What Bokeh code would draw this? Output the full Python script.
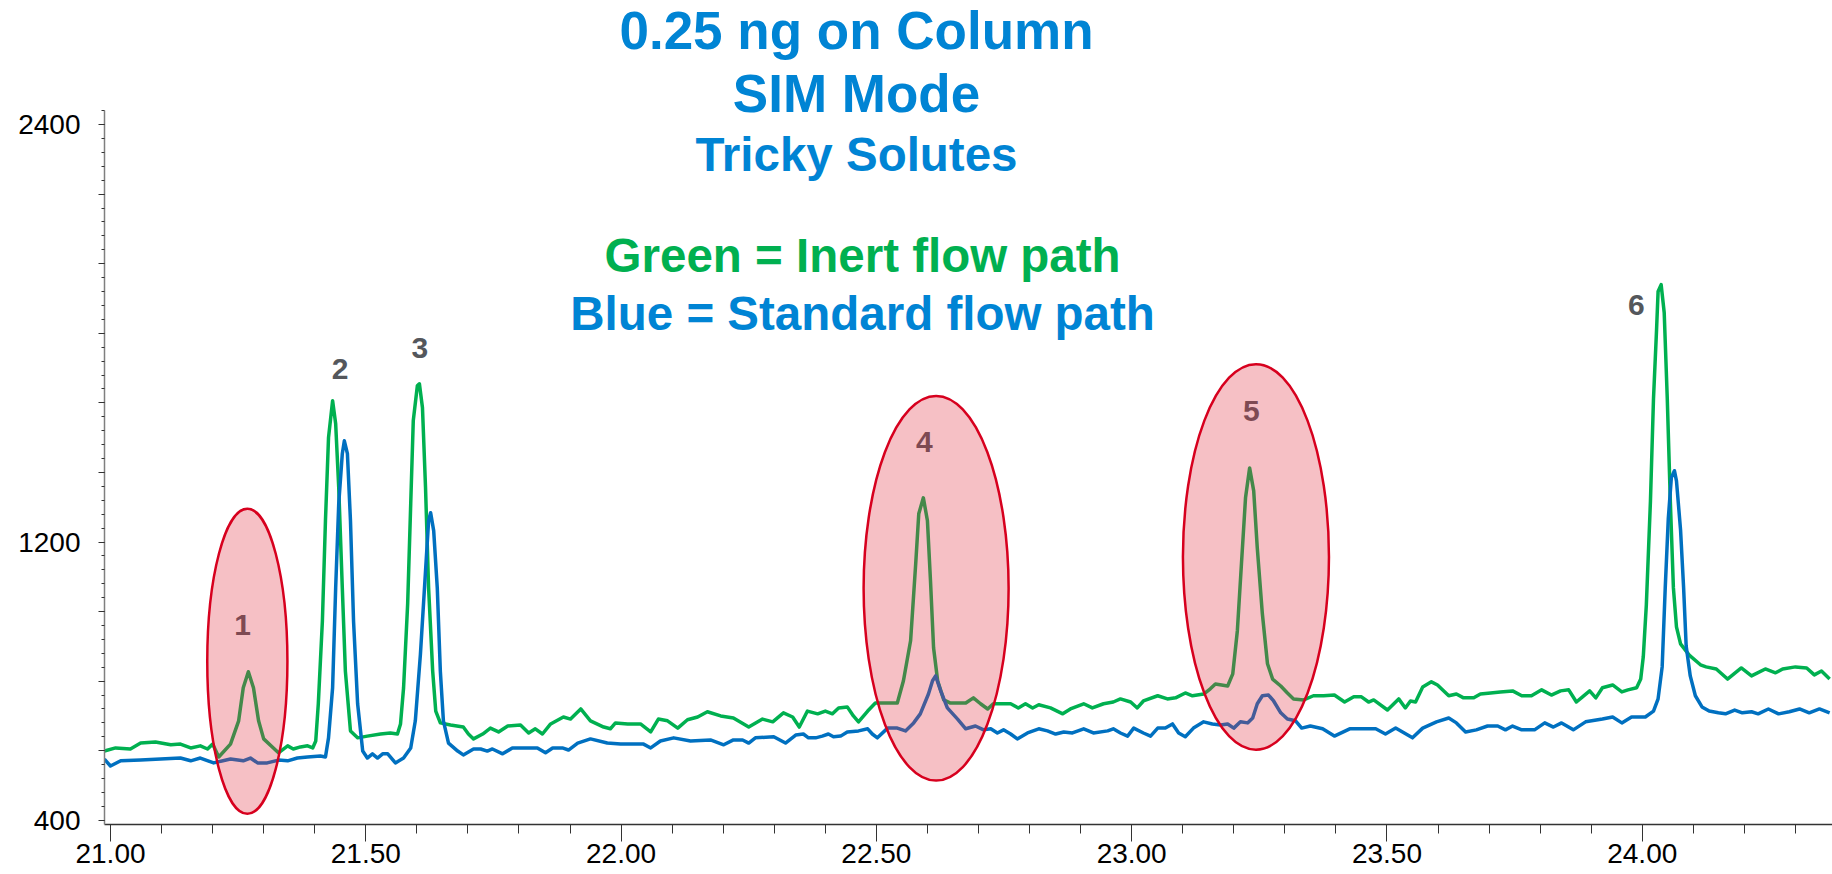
from bokeh.plotting import figure
from bokeh.models import Range1d, FixedTicker, NumeralTickFormatter
from bokeh.core.properties import value
from bokeh.embed import file_html
from bokeh.resources import INLINE

# ---------------- data (retention time in min, abundance) ----------------
green_time = [20.988, 21.010, 21.039, 21.059, 21.088, 21.118, 21.137, 21.157, 21.176, 21.190,
              21.200, 21.212, 21.235, 21.251, 21.260, 21.270, 21.280, 21.290, 21.300, 21.319,
              21.329, 21.347, 21.358, 21.372, 21.386, 21.396, 21.402, 21.407, 21.415, 21.421,
              21.427, 21.435, 21.441, 21.447, 21.454, 21.460, 21.470, 21.484, 21.503, 21.529,
              21.548, 21.562, 21.568, 21.574, 21.582, 21.588, 21.593, 21.601, 21.605, 21.611,
              21.617, 21.623, 21.631, 21.637, 21.646, 21.666, 21.691, 21.701, 21.711, 21.729,
              21.744, 21.760, 21.778, 21.803, 21.819, 21.832, 21.846, 21.862, 21.887, 21.901,
              21.921, 21.940, 21.966, 21.979, 21.989, 22.013, 22.038, 22.058, 22.073, 22.091,
              22.111, 22.130, 22.150, 22.169, 22.195, 22.220, 22.250, 22.277, 22.297, 22.318,
              22.336, 22.349, 22.365, 22.385, 22.400, 22.414, 22.426, 22.443, 22.455, 22.465,
              22.483, 22.498, 22.522, 22.541, 22.553, 22.567, 22.577, 22.583, 22.592, 22.600,
              22.606, 22.612, 22.620, 22.632, 22.645, 22.675, 22.690, 22.704, 22.718, 22.729,
              22.763, 22.778, 22.792, 22.806, 22.818, 22.841, 22.865, 22.880, 22.906, 22.923,
              22.945, 22.964, 22.978, 22.998, 23.011, 23.023, 23.051, 23.070, 23.086, 23.105,
              23.119, 23.141, 23.154, 23.164, 23.188, 23.198, 23.207, 23.215, 23.223, 23.231,
              23.239, 23.246, 23.256, 23.266, 23.276, 23.292, 23.305, 23.317, 23.337, 23.356,
              23.376, 23.397, 23.417, 23.435, 23.450, 23.464, 23.474, 23.501, 23.523, 23.536,
              23.546, 23.556, 23.570, 23.587, 23.599, 23.621, 23.636, 23.650, 23.670, 23.683,
              23.703, 23.722, 23.746, 23.764, 23.783, 23.803, 23.822, 23.840, 23.856, 23.871,
              23.883, 23.897, 23.909, 23.922, 23.942, 23.960, 23.972, 23.989, 23.997, 24.002,
              24.008, 24.016, 24.022, 24.028, 24.031, 24.037, 24.043, 24.049, 24.055, 24.061,
              24.067, 24.075, 24.092, 24.114, 24.125, 24.145, 24.167, 24.194, 24.214, 24.241,
              24.261, 24.275, 24.300, 24.322, 24.337, 24.351, 24.367]
green_abund = [599, 608, 605, 622, 625, 617, 619, 608, 614, 605,
               619, 582, 619, 686, 781, 827, 781, 686, 634, 608,
               594, 614, 605, 611, 614, 608, 628, 735, 973, 1261,
               1500, 1606, 1540, 1356, 1068, 829, 657, 637, 642, 648,
               651, 648, 677, 781, 1022, 1310, 1549, 1649, 1655, 1586,
               1356, 1068, 829, 714, 680, 674, 668, 648, 634, 648,
               665, 654, 671, 674, 651, 663, 648, 677, 697, 691,
               720, 686, 668, 663, 680, 677, 677, 654, 691, 686,
               665, 689, 697, 712, 700, 694, 668, 691, 683, 709,
               697, 668, 714, 706, 714, 706, 723, 726, 700, 683,
               714, 737, 737, 737, 801, 916, 1137, 1281, 1327, 1261,
               1088, 896, 801, 746, 737, 737, 752, 735, 720, 735,
               735, 723, 735, 723, 732, 723, 706, 720, 735, 723,
               735, 740, 749, 740, 723, 743, 758, 749, 752, 766,
               758, 763, 778, 792, 786, 821, 945, 1137, 1327, 1413,
               1347, 1183, 993, 850, 806, 786, 766, 749, 746, 758,
               758, 760, 740, 755, 755, 740, 746, 717, 749, 723,
               743, 740, 783, 798, 789, 758, 763, 752, 752, 763,
               766, 769, 772, 758, 758, 775, 760, 772, 775, 740,
               755, 772, 752, 781, 789, 769, 775, 781, 806, 870,
               1019, 1316, 1612, 1810, 1920, 1940, 1859, 1612, 1316, 1068,
               956, 907, 875, 847, 841, 835, 806, 838, 815, 835,
               824, 835, 841, 838, 818, 829, 806]

blue_time = [20.988, 21.000, 21.020, 21.059, 21.098, 21.137, 21.157, 21.176, 21.202, 21.235,
             21.260, 21.274, 21.288, 21.307, 21.329, 21.347, 21.366, 21.386, 21.411, 21.421,
             21.427, 21.435, 21.441, 21.447, 21.454, 21.458, 21.464, 21.470, 21.476, 21.484,
             21.494, 21.503, 21.513, 21.523, 21.533, 21.543, 21.558, 21.574, 21.588, 21.597,
             21.607, 21.617, 21.623, 21.627, 21.633, 21.640, 21.646, 21.652, 21.662, 21.680,
             21.691, 21.711, 21.725, 21.738, 21.748, 21.768, 21.787, 21.809, 21.836, 21.852,
             21.866, 21.885, 21.897, 21.915, 21.940, 21.973, 21.999, 22.024, 22.044, 22.058,
             22.077, 22.103, 22.136, 22.175, 22.201, 22.220, 22.238, 22.250, 22.263, 22.299,
             22.322, 22.342, 22.357, 22.367, 22.381, 22.394, 22.406, 22.416, 22.430, 22.443,
             22.465, 22.483, 22.492, 22.502, 22.522, 22.541, 22.557, 22.573, 22.586, 22.602,
             22.610, 22.616, 22.626, 22.639, 22.659, 22.675, 22.694, 22.710, 22.724, 22.737,
             22.749, 22.763, 22.776, 22.796, 22.818, 22.835, 22.851, 22.867, 22.884, 22.906,
             22.925, 22.953, 22.964, 22.978, 22.992, 23.004, 23.023, 23.037, 23.051, 23.066,
             23.080, 23.092, 23.105, 23.121, 23.141, 23.158, 23.174, 23.188, 23.200, 23.213,
             23.227, 23.237, 23.246, 23.256, 23.268, 23.278, 23.292, 23.305, 23.321, 23.333,
             23.350, 23.374, 23.397, 23.427, 23.478, 23.497, 23.517, 23.550, 23.570, 23.597,
             23.621, 23.636, 23.654, 23.675, 23.697, 23.717, 23.732, 23.746, 23.764, 23.789,
             23.809, 23.826, 23.842, 23.865, 23.889, 23.922, 23.942, 23.960, 23.979, 24.006,
             24.022, 24.031, 24.039, 24.045, 24.051, 24.057, 24.063, 24.067, 24.075, 24.081,
             24.086, 24.094, 24.104, 24.117, 24.131, 24.149, 24.163, 24.181, 24.196, 24.214,
             24.227, 24.247, 24.267, 24.288, 24.308, 24.327, 24.347, 24.367]
blue_abund = [576, 556, 571, 573, 576, 579, 571, 579, 565, 576,
              571, 579, 565, 565, 573, 571, 579, 582, 585, 582,
              637, 781, 1068, 1310, 1454, 1491, 1454, 1261, 973, 735,
              599, 579, 591, 579, 591, 591, 565, 579, 608, 686,
              878, 1117, 1261, 1284, 1232, 1068, 829, 686, 622, 599,
              588, 605, 605, 599, 605, 591, 608, 608, 608, 594,
              608, 608, 602, 622, 634, 622, 619, 619, 619, 608,
              628, 637, 628, 631, 617, 631, 631, 622, 637, 640,
              622, 645, 648, 637, 637, 642, 648, 640, 642, 654,
              657, 663, 648, 637, 665, 665, 657, 680, 706, 763,
              801, 815, 772, 723, 691, 663, 671, 660, 663, 651,
              660, 648, 634, 651, 663, 657, 648, 654, 651, 663,
              651, 657, 663, 651, 642, 665, 651, 642, 665, 665,
              677, 651, 640, 665, 683, 677, 674, 677, 665, 683,
              680, 694, 735, 758, 760, 743, 709, 691, 686, 665,
              671, 663, 642, 663, 663, 648, 665, 637, 665, 683,
              694, 680, 654, 660, 671, 671, 660, 671, 660, 660,
              680, 668, 680, 660, 683, 691, 697, 680, 697, 697,
              714, 749, 841, 1068, 1267, 1385, 1405, 1376, 1235, 1068,
              901, 815, 758, 726, 714, 709, 706, 717, 709, 712,
              706, 720, 706, 712, 720, 709, 720, 709]

peak_ids = ["1", "2", "3", "4", "5", "6"]
peak_label_time = [21.2585, 21.4495, 21.606, 22.594, 23.2346, 23.9886]
peak_label_abund = [962, 1698, 1759, 1487, 1577, 1882]

circled_time = [21.268, 22.617, 23.2434]
circled_abund = [857, 1067, 1157]
circled_width = [0.157, 0.284, 0.286]
circled_height = [877, 1107, 1110]

y_ticks = list(range(400, 2401, 200))
y_minor_ticks = list(range(400, 2441, 40))
y_labelled = [400, 1200, 2400]
x_ticks = [21.0, 21.5, 22.0, 22.5, 23.0, 23.5, 24.0]
x_minor_ticks = [round(21.0 + 0.1 * i, 1) for i in range(0, 34)]

title_lines = ["0.25 ng on Column", "SIM Mode", "Tricky Solutes"]
legend_lines = ["Green = Inert flow path", "Blue = Standard flow path"]

# ---------------- layout ----------------
PX_PER_UNIT = 0.34765
Y_TOP = 2756.7
Y_BOTTOM = 387.9
FONT = value("Liberation Sans")


def y_at(py):
    # page pixel row -> abundance (frame top is at page row 0)
    return Y_TOP - py / PX_PER_UNIT


p = figure(width=1832, height=874, output_backend="svg", toolbar_location=None,
           x_range=Range1d(20.98825, 24.3726), y_range=Range1d(Y_BOTTOM, Y_TOP),
           min_border_left=104, min_border_right=0, min_border_top=0, min_border_bottom=50)
p.xgrid.visible = False
p.ygrid.visible = False
p.outline_line_color = None
p.background_fill_color = "white"
p.border_fill_color = "white"

# y axis
ya = p.yaxis[0]
ya.ticker = FixedTicker(ticks=y_ticks, minor_ticks=y_minor_ticks)
ya.major_label_overrides = {t: (str(t) if t in y_labelled else "") for t in y_ticks}
ya.bounds = (Y_BOTTOM, 2440)
ya.axis_line_color = "#7f7f7f"
ya.axis_line_width = 1.5
ya.major_tick_line_color = "#333333"
ya.minor_tick_line_color = "#333333"
ya.major_tick_in = 0
ya.major_tick_out = 6
ya.minor_tick_in = 0
ya.minor_tick_out = 3
ya.major_label_standoff = 18
ya.major_label_text_font = "Liberation Sans"
ya.major_label_text_font_size = "28px"
ya.major_label_text_color = "black"

# x axis
xa = p.xaxis[0]
xa.ticker = FixedTicker(ticks=x_ticks, minor_ticks=x_minor_ticks)
xa.formatter = NumeralTickFormatter(format="0.00")
xa.axis_line_color = "#333333"
xa.axis_line_width = 1.5
xa.major_tick_line_color = "#333333"
xa.minor_tick_line_color = "#333333"
xa.major_tick_in = 0
xa.major_tick_out = 17
xa.minor_tick_in = 0
xa.minor_tick_out = 9
xa.major_label_standoff = 2
xa.major_label_text_font = "Liberation Sans"
xa.major_label_text_font_size = "28px"
xa.major_label_text_color = "black"

# traces
p.line(green_time, green_abund, line_color="#00B050", line_width=3.5, line_join="round")
p.line(blue_time, blue_abund, line_color="#0070C0", line_width=3.5, line_join="round")

# peak numbers
p.text(x=peak_label_time, y=peak_label_abund, text=peak_ids, text_font=FONT,
       text_font_style="bold", text_font_size="30px", text_color="#54575C",
       text_align="center", text_baseline="middle")

# highlighted peaks (drawn on top, translucent)
p.ellipse(x=circled_time, y=circled_abund, width=circled_width, height=circled_height,
          fill_color="#E03040", fill_alpha=0.3, line_color="#D7001E", line_width=2.5)

# titles
title_x = 22.461
for txt, py, size in zip(title_lines, [30, 93, 154], ["53px", "53px", "47.5px"]):
    p.text(x=[title_x], y=[y_at(py)], text=[txt], text_font=FONT, text_font_style="bold",
           text_font_size=size, text_color="#0084D4", text_align="center",
           text_baseline="alphabetic")

legend_x = 22.473
for txt, py, col in zip(legend_lines, [254.5, 313], ["#00B050", "#0084D4"]):
    p.text(x=[legend_x], y=[y_at(py)], text=[txt], text_font=FONT, text_font_style="bold",
           text_font_size="47.5px", text_color=col, text_align="center",
           text_baseline="alphabetic")

open("out.html", "w").write(file_html(p, INLINE))
